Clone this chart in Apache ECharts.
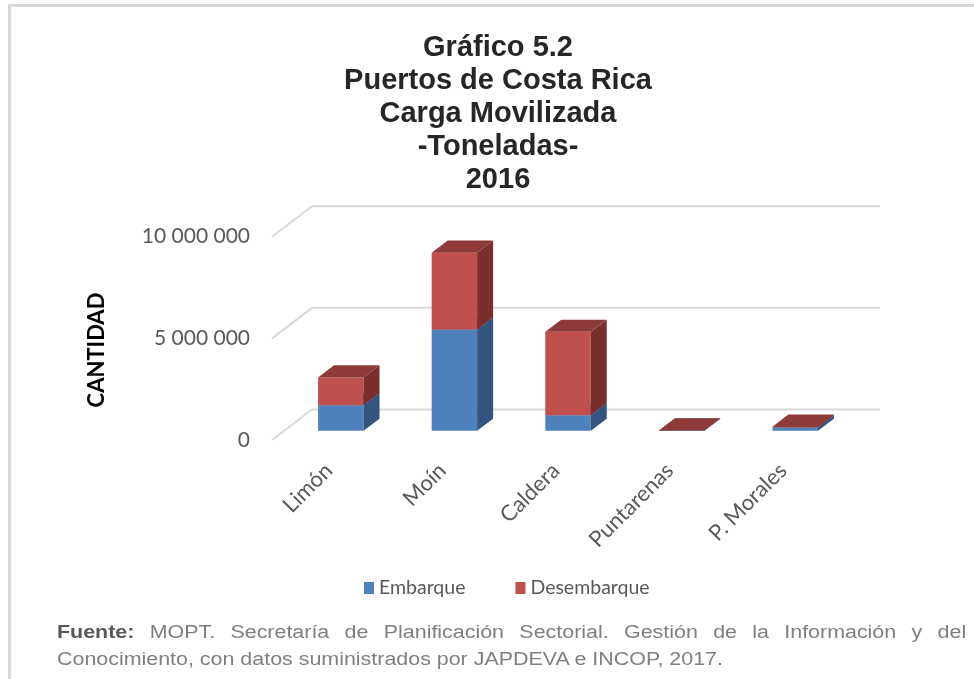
<!DOCTYPE html>
<html>
<head>
<meta charset="utf-8">
<script src="https://cdn.jsdelivr.net/npm/echarts@6/dist/echarts.min.js"></script>
<style>
  html, body { margin: 0; padding: 0; background: #fff; }
  #chart { width: 974px; height: 679px; position: absolute; left: 0; top: 0; }
  #fuente {
    position: absolute; left: 57px; top: 619px; width: 764px;
    transform: scaleX(1.19); transform-origin: 0 0;
    font-family: "Liberation Sans", Arial, sans-serif;
    font-size: 18px; line-height: 27px; color: #7f7f7f;
  }
  #fuente .l1 { text-align: justify; text-align-last: justify; }
  #fuente b { color: #595959; }
</style>
</head>
<body>
<div id="chart"></div>
<div id="fuente">
  <div class="l1"><b>Fuente:</b> MOPT. Secretaría de Planificación Sectorial. Gestión de la Información y del</div>
  <div>Conocimiento, con datos suministrados por JAPDEVA e INCOP, 2017.</div>
</div>
<script>
// datos (toneladas)
const categories = ['Limón', 'Moín', 'Caldera', 'Puntarenas', 'P. Morales']
const embarque = [1260000, 4990000, 770000, 2000, 160000]
const desembarque = [1370000, 3770000, 4100000, 15000, 40000]
const yTicks = [0, 5000000, 10000000]

// profundidad del efecto 3D (px)
const DX = 40
const DY = 30.5

const chart = echarts.init(document.getElementById('chart'))

// pared de fondo con líneas de división
function renderWall(params, api) {
  const cs = params.coordSys
  const y = api.coord([0, api.value(1)])[1]
  return {
    type: 'polyline',
    shape: { points: [[cs.x, y], [cs.x + DX, y - DY], [cs.x + cs.width + DX, y - DY]] },
    style: { stroke: '#d9d9d9', lineWidth: 2, fill: null },
  }
}

// barra 3D: frente, lado y tapa
function makeBar(front, side, top) {
  return function (params, api) {
    const i = api.value(0)
    const lo = api.value(1)
    const hi = api.value(2)
    const band = api.size([1, 0])[0]
    const cx = api.coord([i, 0])[0]
    const w = band * 0.4
    const ox = DX * 0.3, oy = DY * 0.3
    const dx = DX * 0.4, dy = DY * 0.4
    const x0 = cx - w / 2 + ox
    const yLo = api.coord([i, lo])[1] - oy
    const yHi = api.coord([i, hi])[1] - oy
    return {
      type: 'group',
      children: [
        { type: 'rect', shape: { x: x0, y: yHi, width: w, height: yLo - yHi }, style: { fill: front } },
        { type: 'polygon', shape: { points: [[x0 + w, yHi], [x0 + w + dx, yHi - dy], [x0 + w + dx, yLo - dy], [x0 + w, yLo]] }, style: { fill: side } },
        { type: 'polygon', shape: { points: [[x0, yHi], [x0 + dx, yHi - dy], [x0 + w + dx, yHi - dy], [x0 + w, yHi]] }, style: { fill: top } },
      ],
    }
  }
}

const option = {
  animation: false,
  graphic: [
    { type: 'rect', z: -10, shape: { x: 9.5, y: 5.5, width: 1000, height: 1000 }, style: { stroke: '#d9d9d9', lineWidth: 3, fill: null } },
    {
      type: 'text', x: 97, y: 350, rotation: Math.PI / 2,
      style: { text: 'CANTIDAD', fontFamily: 'Lato', fontSize: 22, fontWeight: 'bold', fill: '#000', align: 'center', verticalAlign: 'middle' },
    },
  ],
  title: {
    text: 'Gráfico 5.2\nPuertos de Costa Rica\nCarga Movilizada\n-Toneladas-\n2016',
    left: 493,
    textAlign: 'center',
    top: 26,
    textStyle: { fontFamily: 'Liberation Sans', fontSize: 29, fontWeight: 'bold', lineHeight: 33, color: '#262626' },
  },
  legend: {
    data: ['Embarque', 'Desembarque'],
    top: 573,
    left: 359,
    icon: 'rect',
    itemWidth: 10,
    itemHeight: 12,
    itemGap: 50,
    textStyle: { fontFamily: 'Lato', fontSize: 19.5, color: '#595959' },
  },
  grid: { left: 272, right: 134, top: 236.7, bottom: 239 },
  xAxis: {
    type: 'category',
    data: categories,
    axisLine: { show: false },
    axisTick: { show: false },
    axisLabel: { rotate: 45, margin: 27, fontFamily: 'Lato', fontSize: 22, color: '#595959', interval: 0 },
  },
  yAxis: {
    type: 'value',
    min: 0,
    max: 10000000,
    interval: 5000000,
    axisLine: { show: false },
    axisTick: { show: false },
    splitLine: { show: false },
    axisLabel: {
      margin: 22,
      fontFamily: 'Lato',
      fontSize: 21,
      color: '#595959',
      formatter: v => String(v).replace(/\B(?=(\d{3})+(?!\d))/g, ' '),
    },
  },
  series: [
    {
      type: 'custom',
      name: 'pared',
      z: 1,
      silent: true,
      renderItem: renderWall,
      encode: { x: 0, y: 1 },
      data: yTicks.map(v => [0, v]),
    },
    {
      type: 'custom',
      name: 'Embarque',
      z: 2,
      itemStyle: { color: '#4f81bd' },
      renderItem: makeBar('#4f81bd', '#33547f', '#3f6797'),
      encode: { x: 0, y: [1, 2] },
      data: categories.map((c, i) => [i, 0, embarque[i]]),
    },
    {
      type: 'custom',
      name: 'Desembarque',
      z: 3,
      itemStyle: { color: '#c0504d' },
      renderItem: makeBar('#c0504d', '#7b2f2d', '#8e3a38'),
      encode: { x: 0, y: [1, 2] },
      data: categories.map((c, i) => [i, embarque[i], embarque[i] + desembarque[i]]),
    },
  ],
}

chart.setOption(option)
</script>
</body>
</html>
